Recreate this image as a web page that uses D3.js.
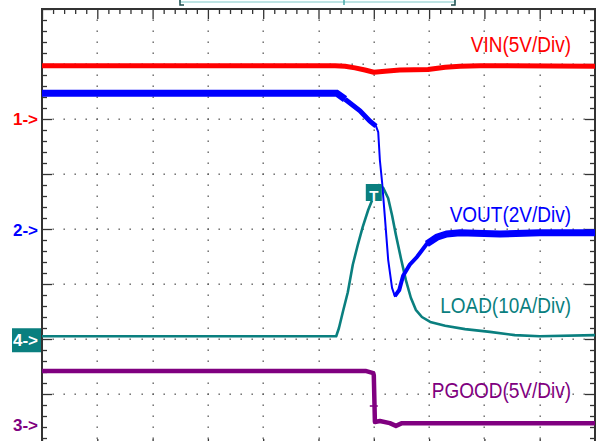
<!DOCTYPE html>
<html><head><meta charset="utf-8">
<script src="https://cdn.jsdelivr.net/npm/d3@7"></script>
<style>html,body{margin:0;padding:0;background:#fff;}svg{display:block;font-family:"Liberation Sans",Arial,sans-serif;}</style>
</head><body>
<svg id="c" width="597" height="441"></svg>
<script>
// time in divisions (0..10), amplitude in divisions from screen centre (-4..4)
const vinX  = [0, 5.30, 5.48, 5.66, 5.84, 6.00, 6.20, 6.47, 6.98, 7.29, 7.56, 7.92, 10];
const vinY  = [2.97, 2.97, 2.96, 2.93, 2.89, 2.85, 2.87, 2.89, 2.90, 2.94, 2.96, 2.97, 2.96];

const voutX = [0, 5.33, 5.48, 5.75, 5.93, 6.04, 6.08, 6.11, 6.15, 6.20, 6.26, 6.33, 6.38, 6.46, 6.53, 6.65, 6.78, 6.96, 7.14, 7.32, 7.56, 8.28, 9.0, 10];
const voutY = [2.47, 2.47, 2.36, 2.15, 1.96, 1.87, 1.76, 1.25, 0.85, 0.22, -0.56, -1.07, -1.22, -1.11, -0.85, -0.65, -0.51, -0.27, -0.15, -0.09, -0.07, -0.09, -0.07, -0.07];

const loadX = [0, 5.32, 5.37, 5.44, 5.53, 5.62, 5.71, 5.80, 5.90, 6.00, 6.09, 6.17, 6.26, 6.33, 6.40, 6.49, 6.58, 6.67, 6.76, 6.87, 7.02, 7.29, 7.65, 8.10, 8.55, 9.0, 10];
const loadY = [-1.95, -1.95, -1.80, -1.51, -1.15, -0.65, -0.29, 0.04, 0.35, 0.60, 0.80, 0.75, 0.56, 0.25, -0.11, -0.53, -0.93, -1.25, -1.47, -1.60, -1.69, -1.76, -1.82, -1.87, -1.93, -1.95, -1.93];

const pgX = [0, 5.85, 5.99, 6.00, 6.02, 6.11, 6.29, 6.40, 6.51, 10];
const pgY = [-2.58, -2.58, -2.62, -2.66, -3.51, -3.49, -3.53, -3.58, -3.53, -3.53];

const labels   = ["VIN(5V/Div)", "VOUT(2V/Div)", "LOAD(10A/Div)", "PGOOD(5V/Div)"];
const labelY   = [3.22, 0.13, -1.52, -3.07];
const markers  = ["1->", "2->", "4->", "3->"];
const markerY  = [2.02, 0.0, -1.95, -3.55];
const colors   = ["#ff0000", "#0000ff", "#0a7f7f", "#800080"];

const svg = d3.select("#c");
const x = d3.scaleLinear().domain([0, 10]).range([42, 595]);
const y = d3.scaleLinear().domain([-4, 4]).range([449, 9]);

// graticule dots
const g = svg.append("g");
const dots = [];
for (let i = 1; i < 10; i++) for (let m = 1; m < 40; m++) dots.push([i, -4 + m * 0.2]);
for (let j = -3; j <= 3; j++) for (let m = 1; m < 50; m++) dots.push([m * 0.2, j]);
g.selectAll("rect.d").data(dots).join("rect")
  .attr("x", d => Math.round(x(d[0])) - 0.5).attr("y", d => Math.round(y(d[1])) - 0.5)
  .attr("width", 1.4).attr("height", 1.4).attr("fill", "#5a5a5a");

// frame with ticks
const minorX = d3.range(0, 50).map(i => i / 5), minorY = d3.range(0, 41).map(i => -4 + i / 5);
const tlen = v => (Math.abs(v - Math.round(v)) < 1e-6 ? 10 : 5);
svg.append("g").attr("transform", "translate(0,9)")
  .call(d3.axisBottom(x).tickValues(minorX).tickSize(5).tickFormat(""))
  .call(a => a.selectAll(".tick line").attr("y2", d => tlen(d)).attr("stroke", "#333").attr("stroke-width", 1.3))
  .call(a => a.select(".domain").remove());
svg.append("g").attr("transform", "translate(0,449)")
  .call(d3.axisTop(x).tickValues(minorX).tickSize(5).tickFormat(""))
  .call(a => a.selectAll(".tick line").attr("y2", d => -tlen(d)).attr("stroke", "#333").attr("stroke-width", 1.3))
  .call(a => a.select(".domain").remove());
svg.append("g").attr("transform", "translate(42,0)")
  .call(d3.axisRight(y).tickValues(minorY).tickSize(5).tickFormat(""))
  .call(a => a.selectAll(".tick line").attr("x2", d => tlen(d)).attr("stroke", "#333").attr("stroke-width", 1.3))
  .call(a => a.select(".domain").remove());
svg.append("g").attr("transform", "translate(595,0)")
  .call(d3.axisLeft(y).tickValues(minorY).tickSize(5).tickFormat(""))
  .call(a => a.selectAll(".tick line").attr("x2", d => -tlen(d)).attr("stroke", "#333").attr("stroke-width", 1.3))
  .call(a => a.select(".domain").remove());
svg.append("rect").attr("x", x(0)).attr("y", y(4)).attr("width", x(10) - x(0)).attr("height", y(-4) - y(4))
  .attr("fill", "none").attr("stroke", "#333").attr("stroke-width", 2);

// record bar at the top
svg.append("rect").attr("x", 180).attr("y", -10).attr("width", 275).attr("height", 12)
  .attr("fill", "none").attr("stroke", "#a9dada").attr("stroke-width", 1.5);
svg.append("path").attr("d", "M180,0V5H184").attr("fill", "none").attr("stroke", "#1e4e4e").attr("stroke-width", 1.5);
svg.append("path").attr("d", "M455,0V5H451").attr("fill", "none").attr("stroke", "#1e4e4e").attr("stroke-width", 1.5);
svg.append("line").attr("x1", 344).attr("x2", 344).attr("y1", 0).attr("y2", 5).attr("stroke", "#4aa8a8").attr("stroke-width", 1.5);

// traces
const line = d3.line().x(d => x(d[0])).y(d => y(d[1]));
const traces = [
  {xs: vinX, ys: vinY, c: colors[0], w: 5},
  {xs: voutX, ys: voutY, c: colors[1], w: 2},
  {xs: loadX, ys: loadY, c: colors[2], w: 2.6},
  {xs: pgX, ys: pgY, c: colors[3], w: 4.5}
];
// VIN drawn first, then PGOOD, LOAD, VOUT on top
[0, 3, 2, 1].forEach(k => {
  const t = traces[k];
  const pts = t.xs.map((v, i) => [v, t.ys[i]]);
  svg.append("path").datum(pts).attr("d", line).attr("fill", "none")
    .attr("stroke", t.c).attr("stroke-width", t.w).attr("stroke-linejoin", "round");
});
// thick flat band for VOUT where it is steady
const voutPts = voutX.map((v, i) => [v, voutY[i]]);
svg.append("path").datum(voutPts.slice(0, 3)).attr("d", line).attr("fill", "none").attr("stroke", colors[1]).attr("stroke-width", 7);
svg.append("path").datum(voutPts.slice(2, 6)).attr("d", line).attr("fill", "none").attr("stroke", colors[1]).attr("stroke-width", 5);
svg.append("path").datum(voutPts.slice(12)).attr("d", line).attr("fill", "none").attr("stroke", colors[1]).attr("stroke-width", 4);
svg.append("path").datum(voutPts.slice(17)).attr("d", line).attr("fill", "none").attr("stroke", colors[1]).attr("stroke-width", 7);

// trigger marker "T"
const tx = x(6.0), ty = y(0.6);
svg.append("rect").attr("x", tx - 8).attr("y", ty - 12).attr("width", 16).attr("height", 17).attr("fill", colors[2]);
svg.append("text").attr("x", tx).attr("y", ty + 1).attr("text-anchor", "middle").attr("dominant-baseline", "middle")
  .attr("fill", "#fff").attr("font-size", 15).attr("font-weight", "bold").text("T");
// small cursor on PGOOD
svg.append("path").attr("d", `M${x(6.0) - 4},${y(-3.22)}H${x(6.0) + 4}M${x(6.0)},${y(-3.1)}V${y(-3.35)}`)
  .attr("stroke", colors[3]).attr("stroke-width", 1.5);

// channel labels
labels.forEach((s, i) => {
  svg.append("text").attr("x", 571).attr("y", y(labelY[i]))
    .attr("text-anchor", "end").attr("font-size", 19).attr("fill", colors[i])
    .attr("transform", `translate(0,${y(labelY[i])}) scale(1,1.12) translate(0,${-y(labelY[i])})`)
    .text(s);
});

// channel ground markers
markers.forEach((s, i) => {
  const yy = y(markerY[i]);
  if (s === "4->") {
    svg.append("rect").attr("x", 12).attr("y", yy - 8).attr("width", 29).attr("height", 24).attr("fill", colors[2]);
    svg.append("text").attr("x", 38).attr("y", yy + 10).attr("text-anchor", "end").attr("font-size", 17)
      .attr("font-weight", "bold").attr("fill", "#fff").text(s);
  } else {
    const col = i === 0 ? colors[0] : i === 1 ? colors[1] : colors[3];
    svg.append("text").attr("x", 38).attr("y", yy + 7).attr("text-anchor", "end").attr("font-size", 17)
      .attr("font-weight", "bold").attr("fill", col).text(s);
  }
});
</script>
</body></html>
